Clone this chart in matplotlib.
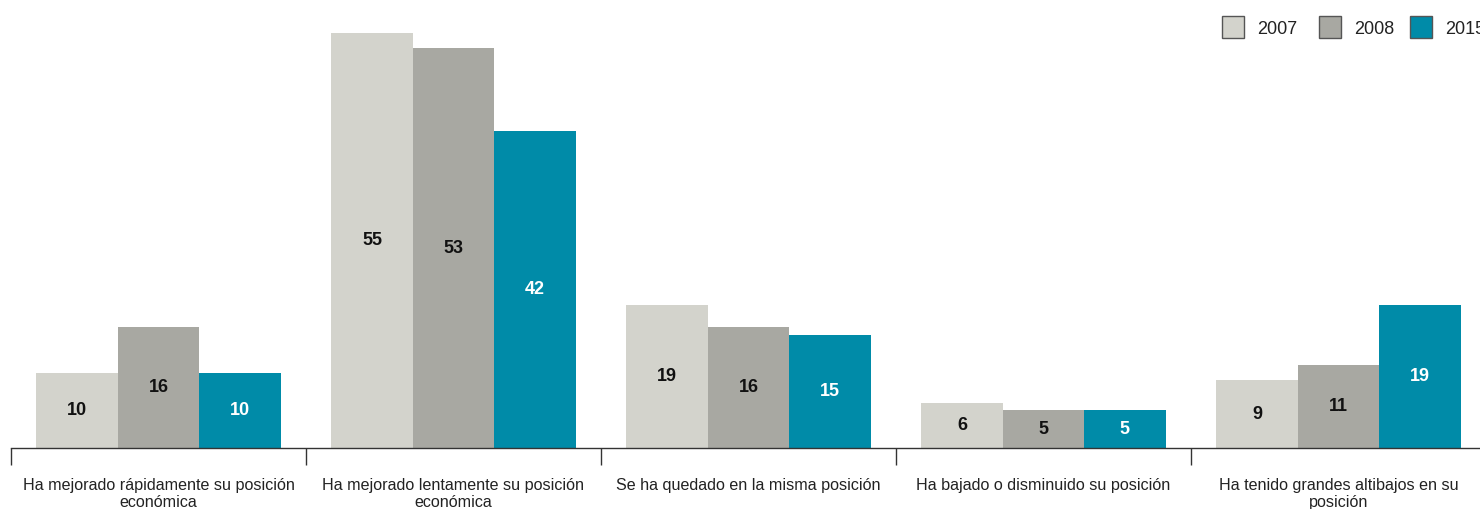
import matplotlib
matplotlib.use("Agg")
import matplotlib.pyplot as plt
from matplotlib.patches import Rectangle
import numpy as np

plt.rcParams['font.family'] = ['Liberation Sans', 'DejaVu Sans']

categories = [
    "Ha mejorado rápidamente su posición\neconómica",
    "Ha mejorado lentamente su posición\neconómica",
    "Se ha quedado en la misma posición",
    "Ha bajado o disminuido su posición",
    "Ha tenido grandes altibajos en su\nposición",
]
years = ["2007", "2008", "2015"]
values_2007 = [10, 55, 19, 6, 9]
values_2008 = [16, 53, 16, 5, 11]
values_2015 = [10, 42, 15, 5, 19]
series = [values_2007, values_2008, values_2015]

colors = ["#d3d3cc", "#a8a8a2", "#008ba8"]
label_colors = ["#111111", "#111111", "#ffffff"]

W, H = 1480, 509
fig = plt.figure(figsize=(W / 100, H / 100), dpi=100)
# axes spans from the first group boundary to just past the right edge
left_px, right_px, base_px = 11, 1486, 448
ax = fig.add_axes([left_px / W, (H - base_px) / H, (right_px - left_px) / W, base_px / H])

px_per_unit = 415 / 55
ax.set_ylim(0, base_px / px_per_unit)
ax.set_xlim(-0.5, len(categories) - 0.5)

x = np.arange(len(categories))
bw = 0.276
for i, (vals, c, lc) in enumerate(zip(series, colors, label_colors)):
    pos = x + (i - 1) * bw
    bars = ax.bar(pos, vals, width=bw, color=c, linewidth=0, zorder=2)
    for b, v in zip(bars, vals):
        ax.text(b.get_x() + b.get_width() / 2, v / 2, str(v), ha="center", va="center",
                fontsize=13, fontweight="bold", color=lc, zorder=3)

for s in ["top", "right", "left"]:
    ax.spines[s].set_visible(False)
ax.spines["bottom"].set_color("#333333")
ax.spines["bottom"].set_linewidth(1.0)
ax.set_yticks([])

ax.set_xticks(np.arange(-0.5, len(categories) + 0.5, 1.0))
ax.set_xticklabels([])
ax.tick_params(axis="x", length=12, width=1.0, color="#333333", direction="out")

for xi, cat in zip(x, categories):
    ax.text(xi, -30 / px_per_unit, cat, ha="center", va="top", fontsize=11.6,
            color="#222222", linespacing=1.2, clip_on=False,
            transform=ax.transData)

# legend drawn as swatches plus labels across the top right
leg_x = [1222, 1319, 1410]
for lx, yr, c in zip(leg_x, years, colors):
    fig.add_artist(Rectangle((lx / W, (H - 38) / H), 22 / W, 22 / H, transform=fig.transFigure,
                             facecolor=c, edgecolor="#555555", linewidth=1.0))
    fig.text((lx + 35) / W, (H - 29) / H, yr, ha="left", va="center", fontsize=13, color="#222222")

fig.savefig("out.png", dpi=100)
